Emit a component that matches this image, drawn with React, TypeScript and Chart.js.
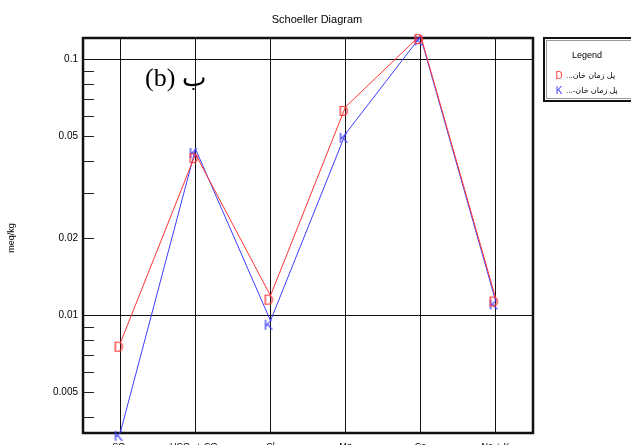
import React, { useEffect, useRef } from 'react';
import { Chart, registerables } from 'chart.js';

Chart.register(...registerables);

// ---- data ----
const categories = ['SO₄', 'HCO₃ + CO₃', 'Cl', 'Mg', 'Ca', 'Na + K'];
const seriesLabels = ['پل زمان خان...', 'پل زمان خان-...'];
const seriesMarkers = ['D', 'K'];
const seriesColors = ['#ff3434', '#3d3dff'];
const valuesD = [0.0078, 0.0425, 0.0119, 0.065, 0.124, 0.0117];
const valuesK = [0.0035, 0.0445, 0.0095, 0.051, 0.1224, 0.0114];

const yMin = 0.00346;
const yMax = 0.1208;
const majorTicks = [0.005, 0.01, 0.02, 0.05, 0.1];
const majorTickLabels = ['0.005', '0.01', '0.02', '0.05', '0.1'];
const minorTicks = [0.004, 0.006, 0.007, 0.008, 0.009, 0.03, 0.04, 0.06, 0.07, 0.08, 0.09];
const gridValues = [0.01, 0.1];

const chartTitle = 'Schoeller Diagram';
const yTitle = 'meq/kg';
const legendTitle = 'Legend';
const panelLabel = '(b) ب';

const SANS = '"Liberation Sans", Arial, "DejaVu Sans", sans-serif';
const SERIF = '"Liberation Serif", "Times New Roman", "DejaVu Serif", serif';

const near = (a: number, b: number) => Math.abs(a - b) / b < 1e-6;

function makeMarker(letter: string, color: string) {
  const c = document.createElement('canvas');
  c.width = 24;
  c.height = 30;
  const ctx = c.getContext('2d')!;
  ctx.font = '14px ' + SANS;
  ctx.fillStyle = color;
  ctx.textAlign = 'center';
  ctx.textBaseline = 'middle';
  ctx.fillText(letter, 12 - 2, 15 + 5);
  return c;
}

const decorPlugin = {
  id: 'decor',
  beforeDatasetsDraw(chart: any) {
    const { ctx, chartArea } = chart;
    const y = chart.scales.y;
    ctx.save();
    // inward minor/major ticks
    ctx.strokeStyle = '#222';
    ctx.lineWidth = 1;
    [...minorTicks, ...majorTicks].forEach((v) => {
      if (gridValues.some((g) => near(g, v))) return;
      const py = Math.round(y.getPixelForValue(v)) + 0.5;
      ctx.beginPath();
      ctx.moveTo(chartArea.left, py);
      ctx.lineTo(chartArea.left + 11, py);
      ctx.stroke();
    });
    // frame
    ctx.strokeStyle = '#111';
    ctx.lineWidth = 2.5;
    ctx.strokeRect(chartArea.left, chartArea.top, chartArea.right - chartArea.left, chartArea.bottom - chartArea.top);
    ctx.restore();
  },
  afterDraw(chart: any) {
    const { ctx } = chart;
    ctx.save();
    // title
    ctx.fillStyle = '#000';
    ctx.font = '11px ' + SANS;
    ctx.textAlign = 'center';
    ctx.textBaseline = 'middle';
    ctx.fillText(chartTitle, 317, 20);
    // y title
    ctx.save();
    ctx.translate(12, 238);
    ctx.rotate(-Math.PI / 2);
    ctx.font = '9px ' + SANS;
    ctx.fillText(yTitle, 0, 0);
    ctx.restore();
    // panel label
    ctx.font = '26px ' + SERIF;
    ctx.textAlign = 'left';
    ctx.textBaseline = 'alphabetic';
    ctx.fillText(panelLabel, 145, 86);
    // legend box
    ctx.strokeStyle = '#111';
    ctx.lineWidth = 2;
    ctx.strokeRect(544, 38, 100, 63);
    ctx.strokeStyle = '#999';
    ctx.lineWidth = 1;
    ctx.strokeRect(546.5, 40.5, 100, 58);
    ctx.fillStyle = '#000';
    ctx.font = '9px ' + SANS;
    ctx.textAlign = 'center';
    ctx.textBaseline = 'middle';
    ctx.fillText(legendTitle, 587, 56);
    chart.data.datasets.forEach((ds: any, i: number) => {
      const ly = 76 + i * 15;
      ctx.fillStyle = seriesColors[i];
      ctx.font = '10px ' + SANS;
      ctx.textAlign = 'center';
      ctx.direction = 'ltr';
      ctx.fillText(seriesMarkers[i], 559, ly);
      ctx.fillStyle = '#000';
      ctx.font = '8px ' + SANS;
      ctx.direction = 'rtl';
      ctx.textAlign = 'left';
      ctx.fillText(ds.label, 566, ly);
      ctx.direction = 'ltr';
    });
    ctx.restore();
  },
};

export default function App() {
  const ref = useRef<HTMLCanvasElement | null>(null);
  useEffect(() => {
    if (!ref.current) return;
    const seriesValues = [valuesD, valuesK];
    const chart = new Chart(ref.current, {
      type: 'line',
      data: {
        labels: categories,
        datasets: seriesValues.map((vals, i) => ({
          label: seriesLabels[i],
          data: vals,
          borderColor: seriesColors[i],
          backgroundColor: seriesColors[i],
          borderWidth: 1,
          pointStyle: makeMarker(seriesMarkers[i], seriesColors[i]) as any,
          pointRadius: 6,
          tension: 0,
          clip: false as any,
        })),
      },
      options: {
        responsive: false,
        animation: false,
        layout: { padding: { left: 0, top: 38, right: 98, bottom: 0 } },
        plugins: {
          legend: { display: false },
          title: { display: false },
          tooltip: { enabled: false },
        },
        scales: {
          x: {
            type: 'category',
            offset: true,
            border: { display: false },
            grid: { offset: false, color: '#111', lineWidth: 1, drawTicks: false },
            ticks: { color: '#000', font: { family: SANS, size: 9 }, padding: 8, maxRotation: 0, autoSkip: false },
            afterFit: (s: any) => {
              s.height = 12;
            },
          },
          y: {
            type: 'logarithmic',
            min: yMin,
            max: yMax,
            border: { display: false },
            grid: {
              drawTicks: false,
              lineWidth: 1,
              color: (c: any) => (c.tick && gridValues.some((g) => near(g, c.tick.value)) ? '#111' : 'rgba(0,0,0,0)'),
            },
            afterBuildTicks: (s: any) => {
              s.ticks = [...minorTicks, ...majorTicks].sort((a, b) => a - b).map((v) => ({ value: v }));
            },
            ticks: {
              autoSkip: false,
              color: '#000',
              padding: 5,
              font: { family: SANS, size: 10 },
              callback: (v: any) => {
                const idx = majorTicks.findIndex((m) => near(m, Number(v)));
                return idx >= 0 ? majorTickLabels[idx] : '';
              },
            },
            afterFit: (s: any) => {
              s.width = 83;
            },
          },
        },
      },
      plugins: [decorPlugin],
    });
    return () => chart.destroy();
  }, []);
  return (
    <div style={{ position: 'absolute', left: 0, top: 0, width: 631, height: 445, background: '#fff' }}>
      <canvas ref={ref} width={631} height={445} style={{ display: 'block' }} />
    </div>
  );
}
